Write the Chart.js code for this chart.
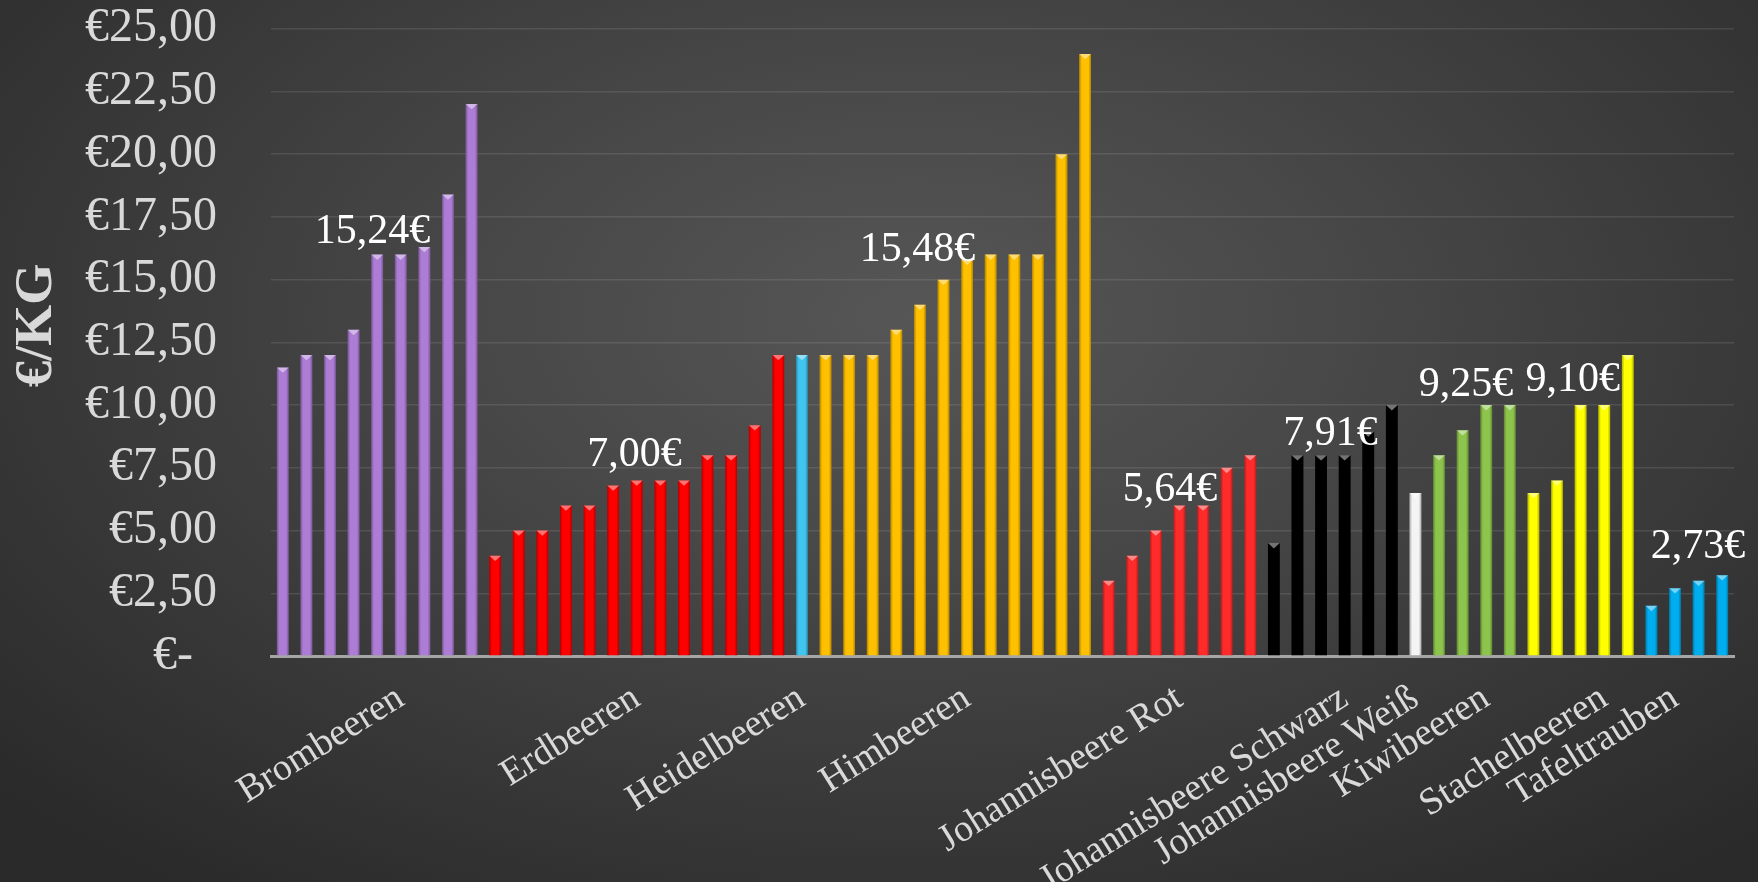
<!DOCTYPE html>
<html>
<head>
<meta charset="utf-8">
<script src="https://cdn.jsdelivr.net/npm/chart.js@4.4.1/dist/chart.umd.min.js"></script>
<style>
  html, body { margin: 0; padding: 0; }
  body {
    width: 1758px; height: 882px; overflow: hidden;
    background: radial-gradient(ellipse 70% 80% at 52% 36%, #565656 0%, #484848 35%, #2a2a2a 100%);
  }
</style>
</head>
<body>
<canvas id="chart" width="1758" height="882"></canvas>
<script>
  // Preise in €/kg, je Sorte
  const groupNames = ["Brombeeren", "Erdbeeren", "Heidelbeeren", "Himbeeren", "Johannisbeere Rot",
    "Johannisbeere Schwarz", "Johannisbeere Weiß", "Kiwibeeren", "Stachelbeeren", "Tafeltrauben"];
  const brombeeren = [11.5, 12, 12, 13, 16, 16, 16.3, 18.4, 22];
  const erdbeeren = [4, 5, 5, 6, 6, 6.8, 7, 7, 7, 8, 8, 9.2, 12];
  const heidelbeeren = [12];
  const himbeeren = [12, 12, 12, 13, 14, 15, 15.8, 16, 16, 16, 20, 24];
  const johRot = [3, 4, 5, 6, 6, 7.5, 8];
  const johSchwarz = [4.5, 8, 8, 8, 8.95, 10];
  const johWeiss = [6.5];
  const kiwibeeren = [8, 9, 10, 10];
  const stachelbeeren = [6.5, 7, 10, 10, 12];
  const tafeltrauben = [2, 2.7, 3, 3.22];

  const groupValues = [brombeeren, erdbeeren, heidelbeeren, himbeeren, johRot,
    johSchwarz, johWeiss, kiwibeeren, stachelbeeren, tafeltrauben];
  const groupColors = ["#ad7dd6", "#ff0000", "#3fc5ef", "#ffc000", "#ff2b2b",
    "#000000", "#f4f4f4", "#8dc44b", "#ffff00", "#00aeef"];

  // which bar of a group carries the category name
  const nameBar = [5, 6, 0, 6, 3, 3, 0, 2, 3, 1];
  // where the average label sits: bar offset inside group, € level
  const avgSpots = { 0: [3.8, 16.9], 1: [5.9, 8.03], 3: [3.9, 16.2], 4: [2.6, 6.6],
    5: [2.4, 8.86], 7: [1.14, 10.8], 8: [1.67, 11.0], 9: [1.97, 4.33] };

  const FONT = '"Liberation Serif", "Times New Roman", serif';

  const labels = [], values = [], colors = [], groupStart = [];
  groupValues.forEach((vals, g) => {
    groupStart.push(values.length);
    vals.forEach((v, k) => {
      labels.push(k === nameBar[g] ? groupNames[g] : "");
      values.push(v);
      colors.push(groupColors[g]);
    });
  });

  function euro(v) {
    return v.toFixed(2).replace(".", ",");
  }

  const barDecor = {
    id: "barDecor",
    afterDatasetsDraw(chart) {
      const ctx = chart.ctx;
      const meta = chart.getDatasetMeta(0);
      ctx.save();
      meta.data.forEach(bar => {
        const { x, y, base, width } = bar.getProps(["x", "y", "base", "width"], true);
        const l = x - width / 2, r = x + width / 2;
        const g = ctx.createLinearGradient(l, 0, r, 0);
        g.addColorStop(0, "rgba(0,0,0,0.3)");
        g.addColorStop(0.22, "rgba(0,0,0,0)");
        g.addColorStop(0.78, "rgba(0,0,0,0)");
        g.addColorStop(1, "rgba(0,0,0,0.3)");
        ctx.fillStyle = g;
        ctx.fillRect(l, y, width, base - y);
        ctx.beginPath();
        ctx.moveTo(l, y);
        ctx.lineTo(r, y);
        ctx.lineTo(x, y + width * 0.45);
        ctx.closePath();
        ctx.fillStyle = "rgba(255,255,255,0.45)";
        ctx.fill();
      });

      // averages
      const xs = chart.scales.x, ys = chart.scales.y;
      ctx.font = "42px " + FONT;
      ctx.fillStyle = "#ffffff";
      ctx.textAlign = "center";
      ctx.textBaseline = "middle";
      Object.keys(avgSpots).forEach(key => {
        const g = +key;
        const vals = groupValues[g];
        const avg = vals.reduce((a, b) => a + b, 0) / vals.length;
        const [off, lvl] = avgSpots[g];
        ctx.fillText(euro(avg) + "€", xs.getPixelForValue(groupStart[g] + off), ys.getPixelForValue(lvl));
      });

      // axis title
      const area = chart.chartArea;
      ctx.save();
      ctx.translate(37, (area.top + area.bottom) / 2 - 17);
      ctx.rotate(-Math.PI / 2);
      ctx.font = "bold 53px " + FONT;
      ctx.fillStyle = "#d9d9d9";
      ctx.fillText("€/KG", 0, 0);
      ctx.restore();
      ctx.restore();
    }
  };

  new Chart(document.getElementById("chart"), {
    type: "bar",
    data: {
      labels: labels,
      datasets: [{
        data: values,
        backgroundColor: colors,
        barPercentage: 0.5,
        categoryPercentage: 1.0
      }]
    },
    options: {
      responsive: false,
      animation: false,
      layout: { padding: { top: 0, right: 24, bottom: 0, left: 0 } },
      plugins: { legend: { display: false }, tooltip: { enabled: false } },
      scales: {
        x: {
          grid: { display: false, drawTicks: false },
          border: { color: "#a6a6a6", width: 3 },
          ticks: {
            autoSkip: false, minRotation: 32, maxRotation: 32, padding: 20,
            color: "#d9d9d9", font: { family: FONT, size: 38 }
          },
          afterFit(scale) {
            scale.height = 226;
            scale.paddingLeft = 0;
            scale.paddingRight = 0;
          }
        },
        y: {
          min: 0, max: 25,
          grid: {
            color: "rgba(255,255,255,0.1)", lineWidth: 1.5,
            drawTicks: true, tickLength: 54, tickColor: "rgba(0,0,0,0)"
          },
          border: { display: false },
          ticks: {
            stepSize: 2.5, autoSkip: false, padding: 0, color: "#d9d9d9",
            font: { family: FONT, size: 48 },
            callback: v => v === 0 ? "€-  " : "€" + euro(v)
          },
          afterFit(scale) { scale.width = 271; }
        }
      }
    },
    plugins: [barDecor]
  });
</script>
</body>
</html>
